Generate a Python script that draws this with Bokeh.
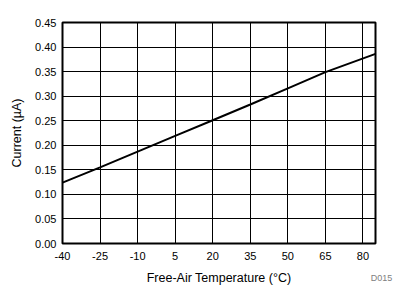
from bokeh.plotting import figure
from bokeh.models import Range1d, FixedTicker, LinearAxis
from bokeh.embed import file_html
from bokeh.resources import INLINE

temperature = [-40, -25, -10, 5, 20, 35, 50, 65, 85]
current = [0.124, 0.155, 0.187, 0.219, 0.251, 0.283, 0.316, 0.349, 0.386]
x_ticks = [-40, -25, -10, 5, 20, 35, 50, 65, 80]
y_ticks = [0.0, 0.05, 0.10, 0.15, 0.20, 0.25, 0.30, 0.35, 0.40, 0.45]

FONT = "Liberation Sans"

p = figure(width=408, height=288, output_backend="svg", toolbar_location=None,
           x_range=Range1d(-40, 85), y_range=Range1d(0, 0.45))
p.min_border_left = 62
p.min_border_right = 33
p.min_border_top = 22
p.min_border_bottom = 45
p.background_fill_color = "white"
p.border_fill_color = "white"
p.outline_line_color = "black"
p.outline_line_width = 2

p.line(temperature, current, line_color="black", line_width=2)

ax1 = p.xaxis[0]
ay = p.yaxis[0]
ax1.ticker = FixedTicker(ticks=x_ticks)
ay.ticker = FixedTicker(ticks=y_ticks)
ax1.major_label_overrides = {t: str(t) for t in x_ticks}
ay.major_label_overrides = {t: f"{t:.2f}" for t in y_ticks}
for ax in (ax1, ay):
    ax.axis_line_color = None
    ax.major_tick_line_color = None
    ax.minor_tick_line_color = None
    ax.major_label_text_font = FONT
    ax.major_label_text_font_size = "11px"
    ax.major_label_text_color = "black"
    ax.axis_label_text_font = FONT
    ax.axis_label_text_font_size = "12.5px"
    ax.axis_label_text_font_style = "normal"
    ax.axis_label_text_color = "black"
ax1.major_tick_out = 6
ax1.major_label_standoff = 2
ay.major_tick_out = 0
ay.minor_tick_out = 0
ay.major_label_standoff = 6
ay.axis_label = "Current (µA)"
ay.axis_label_standoff = 8

# second bottom axis: carries the x-axis title and the gray figure id
ax2 = LinearAxis(ticker=FixedTicker(ticks=[84.9]),
                 major_label_overrides={84.9: "\u00a0\u00a0\u00a0\u00a0\u00a0D015"})
ax2.axis_line_color = None
ax2.major_tick_line_color = None
ax2.minor_tick_line_color = None
ax2.major_tick_out = 0
ax2.minor_tick_out = 0
ax2.major_label_standoff = 10
ax2.major_label_text_font = FONT
ax2.major_label_text_font_size = "9px"
ax2.major_label_text_color = "#808080"
ax2.axis_label = "Free-Air Temperature (°C)"
ax2.axis_label_text_font = FONT
ax2.axis_label_text_font_size = "12.5px"
ax2.axis_label_text_font_style = "normal"
ax2.axis_label_text_color = "black"
ax2.axis_label_standoff = -15
p.add_layout(ax2, "below")

p.xgrid.ticker = FixedTicker(ticks=x_ticks)
p.ygrid.ticker = FixedTicker(ticks=y_ticks)
p.grid.grid_line_color = "black"
p.grid.grid_line_width = 1
p.grid.grid_line_alpha = 1

open("out.html", "w").write(file_html(p, INLINE))
